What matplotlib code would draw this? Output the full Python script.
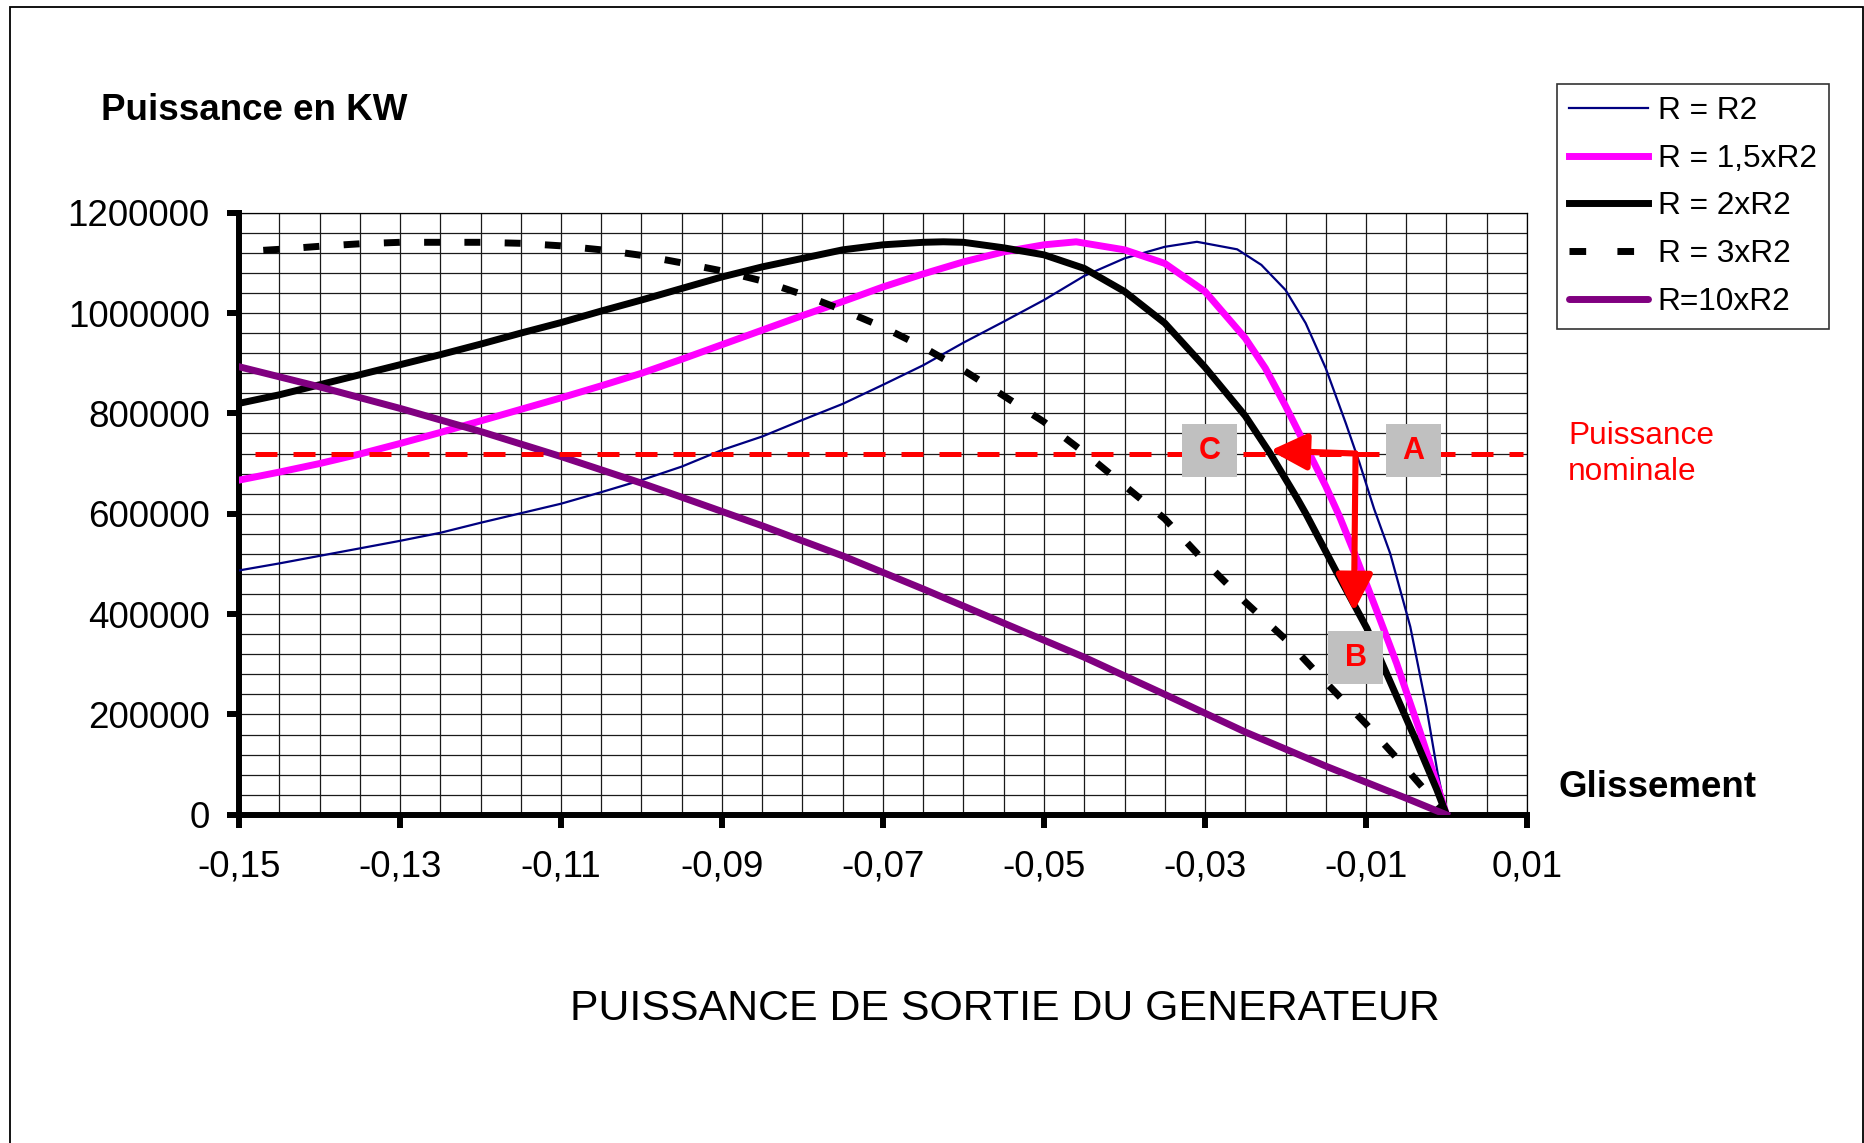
import matplotlib
matplotlib.use("Agg")
import matplotlib.pyplot as plt
from matplotlib.ticker import MultipleLocator, FixedLocator, FuncFormatter
from matplotlib.lines import Line2D
from matplotlib.patches import Rectangle

plt.rcParams['font.family'] = ['Liberation Sans', 'DejaVu Sans']

# glissement (x) et puissance en W (y, lue en milliers)
x_r2 = [-0.150, -0.145, -0.140, -0.135, -0.130, -0.125, -0.120, -0.115, -0.110, -0.105,
        -0.100, -0.095, -0.090, -0.085, -0.080, -0.075, -0.070, -0.065, -0.060, -0.055,
        -0.050, -0.045, -0.040, -0.035, -0.031, -0.026, -0.023, -0.020, -0.0175, -0.015,
        -0.0125, -0.0108, -0.009, -0.007, -0.0045, -0.0025, -0.0011, 0.0]
p_r2 = [487, 501, 516, 531, 546, 562, 582, 601, 620, 643,
        667, 694, 727, 754, 787, 819, 857, 896, 941, 983,
        1026, 1074, 1109, 1132, 1142, 1127, 1096, 1046, 980, 890,
        780, 701, 610, 521, 375, 215, 83, 0]

x_r15 = [-0.150, -0.145, -0.140, -0.135, -0.130, -0.125, -0.120, -0.115, -0.110, -0.105,
         -0.100, -0.095, -0.090, -0.085, -0.080, -0.075, -0.070, -0.065, -0.060, -0.055,
         -0.050, -0.046, -0.040, -0.035, -0.030, -0.025, -0.0225, -0.020, -0.0175, -0.015,
         -0.0133, -0.0112, -0.0087, -0.0062, -0.0033, -0.0012, 0.0]
p_r15 = [667, 683, 700, 719, 740, 762, 785, 808, 831, 855,
         880, 908, 937, 966, 995, 1023, 1052, 1078, 1102, 1122,
         1136, 1142, 1126, 1099, 1043, 950, 890, 815, 735, 655,
         595, 512, 408, 302, 166, 62, 0]

x_r20 = [-0.150, -0.145, -0.140, -0.135, -0.130, -0.125, -0.120, -0.115, -0.110, -0.105,
         -0.100, -0.095, -0.090, -0.085, -0.080, -0.075, -0.070, -0.065, -0.0625, -0.060,
         -0.055, -0.050, -0.045, -0.040, -0.035, -0.030, -0.025, -0.0219, -0.0186, -0.0174,
         -0.0137, -0.0099, -0.0074, -0.0039, -0.0012, 0.0]
p_r20 = [820, 837, 857, 877, 897, 917, 938, 960, 981, 1004,
         1026, 1049, 1072, 1092, 1109, 1126, 1136, 1141, 1142, 1141,
         1130, 1116, 1089, 1043, 980, 892, 795, 720, 632, 598,
         485, 372, 280, 152, 50, 0]

x_r30 = [-0.150, -0.145, -0.140, -0.135, -0.130, -0.125, -0.120, -0.115, -0.110, -0.105,
         -0.100, -0.095, -0.090, -0.085, -0.080, -0.075, -0.070, -0.065, -0.060, -0.055,
         -0.050, -0.045, -0.040, -0.035, -0.030, -0.025, -0.020, -0.015, -0.010, -0.005, 0.0]
p_r30 = [1122, 1127, 1133, 1138, 1141, 1141, 1141, 1139, 1134, 1126,
         1115, 1100, 1084, 1064, 1037, 1006, 972, 932, 886, 835,
         783, 722, 656, 590, 504, 424, 350, 264, 181, 92, 0]

x_r100 = [-0.150, -0.140, -0.130, -0.120, -0.110, -0.100, -0.095, -0.085, -0.075, -0.065,
          -0.055, -0.045, -0.035, -0.025, -0.015, -0.005, 0.0]
p_r100 = [893, 853, 810, 764, 714, 661, 633, 576, 516, 450,
          382, 314, 240, 165, 97, 33, 0]

labels = ["R = R2", "R = 1,5xR2", "R = 2xR2", "R = 3xR2", "R=10xR2"]

p_nominale = 720000
nom_x = [-0.148, 0.0095]

# points A, B, C (x, P)
box_letters = ["C", "A", "B"]
box_x = [-0.0294, -0.0041, -0.0113]
box_p = [726000, 726000, 313000]
pt_a = (-0.0113, 720000)
pt_c = (-0.0219, 726000)
pt_b = (-0.0115, 405000)

xticks = [-0.15, -0.13, -0.11, -0.09, -0.07, -0.05, -0.03, -0.01, 0.01]
yticks = [0, 200000, 400000, 600000, 800000, 1000000, 1200000]

W, H = 1865, 1143
fig = plt.figure(figsize=(W / 100, H / 100), dpi=100)
ax = fig.add_axes([239 / W, 1 - 814.8 / H, 1288 / W, 602.1 / H])

k = 1000
ax.plot(x_r2, [v * k for v in p_r2], color='#000080', lw=1.6, zorder=3)
ax.plot(x_r15, [v * k for v in p_r15], color='#FF00FF', lw=5, zorder=3)
ax.plot(x_r20, [v * k for v in p_r20], color='black', lw=5, zorder=3)
ax.plot(x_r30, [v * k for v in p_r30], color='black', lw=5,
        linestyle=(2.3, (2.3, 3.5)), zorder=3)
ax.plot(x_r100, [v * k for v in p_r100], color='#800080', lw=5, zorder=3)

ax.plot(nom_x, [p_nominale, p_nominale], color='red', lw=3.6,
        linestyle=(0, (4.4, 3.2)), zorder=4)

# boites grises
bw, bh = 55 / 8050, 53 * 1993
for lt, bx, bp in zip(box_letters, box_x, box_p):
    ax.add_patch(Rectangle((bx - bw / 2, bp - bh / 2), bw, bh, facecolor='#C0C0C0',
                           edgecolor='none', zorder=5))
    ax.text(bx, bp, lt, color='red', fontsize=22, fontweight='bold',
            ha='center', va='center', zorder=6)

# fleches
arr = dict(arrowstyle='-|>', color='red', lw=4.4, mutation_scale=56,
           shrinkA=0, shrinkB=0)
ax.annotate('', xy=pt_c, xytext=pt_a, arrowprops=arr, zorder=7)
ax.annotate('', xy=pt_b, xytext=pt_a, arrowprops=arr, zorder=7)

ax.set_xlim(-0.15, 0.01)
ax.set_ylim(0, 1200000)
ax.xaxis.set_major_locator(FixedLocator(xticks))
ax.yaxis.set_major_locator(FixedLocator(yticks))
ax.xaxis.set_minor_locator(MultipleLocator(0.005))
ax.yaxis.set_minor_locator(MultipleLocator(40000))
ax.xaxis.set_major_formatter(FuncFormatter(lambda v, p: ('%.2f' % v).replace('.', ',')))
ax.yaxis.set_major_formatter(FuncFormatter(lambda v, p: '%d' % v))

ax.grid(which='both', color='#1a1a1a', lw=0.9)
ax.set_axisbelow(True)
ax.tick_params(which='minor', length=0)
ax.tick_params(which='major', direction='out', length=9, width=4.3,
               labelsize=26.5, pad=12)
ax.tick_params(axis='x', pad=16)
for s in ['left', 'bottom']:
    ax.spines[s].set_linewidth(4.3)
for s in ['top', 'right']:
    ax.spines[s].set_linewidth(0.9)

fig.text(101 / W, 1 - 120 / H, "Puissance en KW", fontsize=26.5, fontweight='bold',
         ha='left', va='baseline')
fig.text(1558 / W, 1 - 797 / H, "Glissement", fontsize=26.5, fontweight='bold',
         ha='left', va='baseline')
fig.text(1005 / W, 1 - 1020 / H, "PUISSANCE DE SORTIE DU GENERATEUR", fontsize=30.9,
         ha='center', va='baseline')
fig.text(1568 / W, 1 - 454 / H, "Puissance\nnominale", fontsize=22.8, color='red',
         ha='left', va='center', linespacing=1.27)

handles = [Line2D([], [], color='#000080', lw=1.6),
           Line2D([], [], color='#FF00FF', lw=5),
           Line2D([], [], color='black', lw=5),
           Line2D([], [], color='black', lw=5, linestyle=(0, (2.4, 4.5))),
           Line2D([], [], color='#800080', lw=5, solid_capstyle='round')]
leg = fig.legend(handles, labels, loc='upper left', bbox_to_anchor=(1557 / W, 1 - 84 / H),
                 fontsize=22.8, frameon=True, fancybox=False, shadow=False,
                 handlelength=2.5, handletextpad=0.3, borderpad=0.38,
                 labelspacing=0.56, borderaxespad=0)
leg.get_frame().set_edgecolor('black')
leg.get_frame().set_linewidth(1.2)

fig.add_artist(Rectangle((10 / W, -0.05), 1853 / W, 1.05 - 7 / H, transform=fig.transFigure,
                         fill=False, edgecolor='black', lw=1.3))

fig.savefig("out.png", dpi=100)
